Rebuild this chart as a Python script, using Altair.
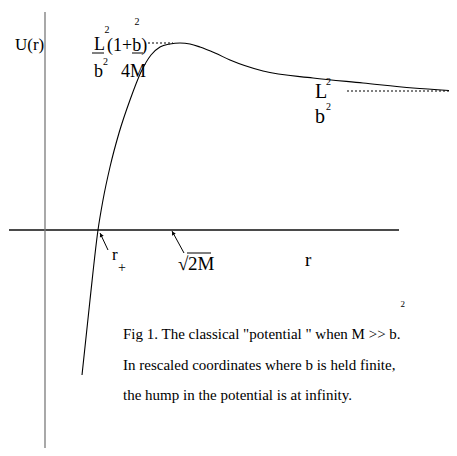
import altair as alt
import pandas as pd

# Potential curve U(r) (rescaled units)
curve_r = [3.7, 4.5, 5.3, 5.8, 6.5, 7.4, 8.5, 9.6, 10.6, 11.5, 12.5, 13.5, 14.5,
           15.5, 17.0, 18.5, 21.8, 26.8, 31.8, 36.8, 40.4]
curve_U = [-14.5, -7.0, 0.0, 3.0, 6.3, 9.7, 13.0, 15.8, 17.5, 18.3, 18.6, 18.7, 18.6,
           18.3, 17.7, 17.0, 15.9, 15.2, 14.7, 14.2, 13.95]

# axes
axis_r = [-3.6, 0.0]
axis_r2 = [35.4, 0.0]
axis_U = [0.0, 21.8]
axis_U2 = [0.0, -22.2]
axis_w = [2.0, 1.3]
axis_c = ["#4a4a4a", "#7a7a7a"]

# dotted asymptote / hump levels
dot_r = [10.3, 30.2]
dot_r2 = [12.8, 40.4]
dot_U = [18.7, 13.9]

# fraction bars / overline
bar_r = [4.7, 8.7, 14.2]
bar_r2 = [5.9, 9.8, 16.6]
bar_U = [17.7, 17.7, -2.3]

# arrows (tail -> head)
arr_r = [6.3, 13.9]
arr_U = [-2.0, -2.3]
arr_r2 = [5.5, 12.7]
arr_U2 = [-0.3, -0.1]
head_r = [5.6, 12.8]
head_U = [-0.5, -0.3]
head_angle = [335, 331]

# labels
lab_text = ["U(r)", "L", "2", "(1+b)", "2", "b", "2", "4M",
            "L", "2", "b", "2",
            "r", "+", "\u221a", "2M", "r",
            "Fig 1. The classical  \"potential \" when M >> b.",
            "In rescaled coordinates where b is held finite,",
            "the hump in the potential is at infinity.",
            "2"]
lab_r = [-3.0, 4.9, 5.95, 6.2, 8.95, 4.9, 5.8, 7.6,
         27.0, 28.1, 27.0, 28.1,
         6.7, 7.3, 13.3, 14.3, 26.0,
         7.8, 7.8, 7.8, 35.55]
lab_U = [18.0, 18.0, 19.7, 17.9, 20.5, 15.3, 16.5, 15.3,
         13.2, 14.5, 10.7, 12.0,
         -3.0, -4.2, -4.0, -4.0, -3.6,
         -10.9, -14.0, -17.0, -7.7]
lab_size = [17, 18, 10, 18, 10, 18, 10, 18,
            20, 10, 20, 10,
            17, 14, 19, 19, 19,
            15, 15, 15, 9]

X = alt.Scale(domain=[-3.7, 40.4])
Y = alt.Scale(domain=[-21.8, 22.2])
FONT = "Liberation Serif"

curve_df = pd.DataFrame({"r": curve_r, "U": curve_U})
axis_df = pd.DataFrame({"r": axis_r, "r2": axis_r2, "U": axis_U, "U2": axis_U2,
                        "w": axis_w, "c": axis_c})
dot_df = pd.DataFrame({"r": dot_r, "r2": dot_r2, "U": dot_U})
bar_df = pd.DataFrame({"r": bar_r, "r2": bar_r2, "U": bar_U})
arr_df = pd.DataFrame({"r": arr_r, "r2": arr_r2, "U": arr_U, "U2": arr_U2})
head_df = pd.DataFrame({"r": head_r, "U": head_U, "a": head_angle})
lab_df = pd.DataFrame({"r": lab_r, "U": lab_U, "t": lab_text, "fs": lab_size})

x = alt.X("r:Q", scale=X, axis=None)
y = alt.Y("U:Q", scale=Y, axis=None)

axes = alt.Chart(axis_df).mark_rule().encode(
    x=x, x2="r2:Q", y=y, y2="U2:Q",
    strokeWidth=alt.StrokeWidth("w:Q", scale=None),
    color=alt.Color("c:N", scale=None),
)
curve = alt.Chart(curve_df).mark_line(color="black", strokeWidth=1.1,
                                      interpolate="monotone").encode(x=x, y=y)
dots = alt.Chart(dot_df).mark_rule(color="black", strokeWidth=1,
                                   strokeDash=[2, 2]).encode(x=x, x2="r2:Q", y=y)
bars = alt.Chart(bar_df).mark_rule(color="black", strokeWidth=1).encode(
    x=x, x2="r2:Q", y=y)
arrows = alt.Chart(arr_df).mark_rule(color="black", strokeWidth=1).encode(
    x=x, x2="r2:Q", y=y, y2="U2:Q")
heads = alt.Chart(head_df).mark_point(shape="triangle-up", filled=True, size=18,
                                      color="black", opacity=1).encode(
    x=x, y=y, angle=alt.Angle("a:Q", scale=None))
labels = alt.Chart(lab_df).mark_text(align="left", baseline="alphabetic",
                                     font=FONT, color="black").encode(
    x=x, y=y, text="t:N", size=alt.Size("fs:Q", scale=None))

chart = alt.layer(axes, curve, dots, bars, arrows, heads, labels).properties(
    width=441, height=440,
    autosize=alt.AutoSizeParams(type="none"),
    padding={"left": 0, "right": 0, "top": 0, "bottom": 0},
    background="white",
).configure_view(stroke=None)

chart.save("out.html", embed_options={"renderer": "svg", "actions": False})
